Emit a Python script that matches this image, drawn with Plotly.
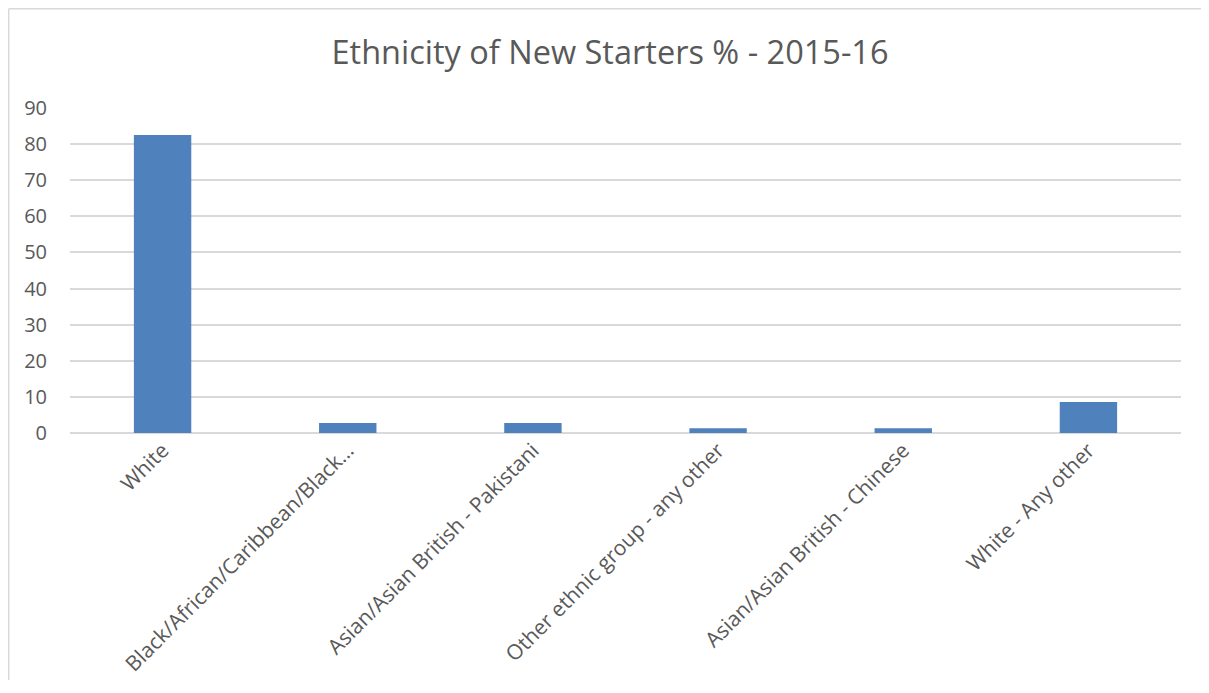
import plotly.graph_objects as go

categories = ["White", "Black/African/Caribbean/Black…", "Asian/Asian British - Pakistani",
              "Other ethnic group - any other", "Asian/Asian British - Chinese", "White - Any other"]
values = [82.5, 2.8, 2.8, 1.3, 1.3, 8.6]
y_ticks = [0, 10, 20, 30, 40, 50, 60, 70, 80, 90]

# page body has an 8px default margin, so the figure starts at (8, 8) in the window;
# keep the page within the window so no scrollbars appear
W, H = 1193, 672
L, R, T, B = 62, 20, 100, 247
pw, ph = W - L - R, H - T - B

fig = go.Figure(go.Bar(x=categories, y=values, marker_color="#4f81bd", width=0.31,
                       marker_line_width=0))

fig.update_layout(
    width=W, height=H,
    margin=dict(l=L, r=R, t=T, b=B, autoexpand=False),
    paper_bgcolor="white", plot_bgcolor="white",
    title=dict(text="Ethnicity of New Starters % - 2015-16", x=(610 - 8 - L) / pw, xref="paper",
               xanchor="center", y=1 - 45/H, yanchor="middle",
               font=dict(family="Open Sans, Liberation Sans", size=32.5, color="#595959")),
    font=dict(family="Open Sans, Liberation Sans", size=20, color="#595959"),
    showlegend=False,
)
fig.update_xaxes(tickangle=-45, showgrid=False, showline=False, ticks="", automargin=False,
                 tickfont=dict(size=21, color="#595959"))
fig.update_yaxes(range=[0, 90], tickvals=y_ticks, showgrid=True, gridcolor="#d9d9d9", gridwidth=1.5,
                 zeroline=True, zerolinecolor="#d9d9d9", zerolinewidth=1.5, showline=False, ticks="",
                 automargin=False, ticklabelstandoff=22, tickfont=dict(size=20, color="#595959"))
x_left = -L/pw + 0.0006
y_top = 1 + T/ph - 0.002
fig.add_shape(type="line", xref="paper", yref="paper", x0=x_left, x1=1.1, y0=y_top, y1=y_top,
              line=dict(color="#d9d9d9", width=1.5), layer="below")
fig.add_shape(type="line", xref="paper", yref="paper", x0=x_left, x1=x_left, y0=-1, y1=y_top,
              line=dict(color="#d9d9d9", width=1.5), layer="below")
fig.write_html("out.html", config={"displayModeBar": False})
